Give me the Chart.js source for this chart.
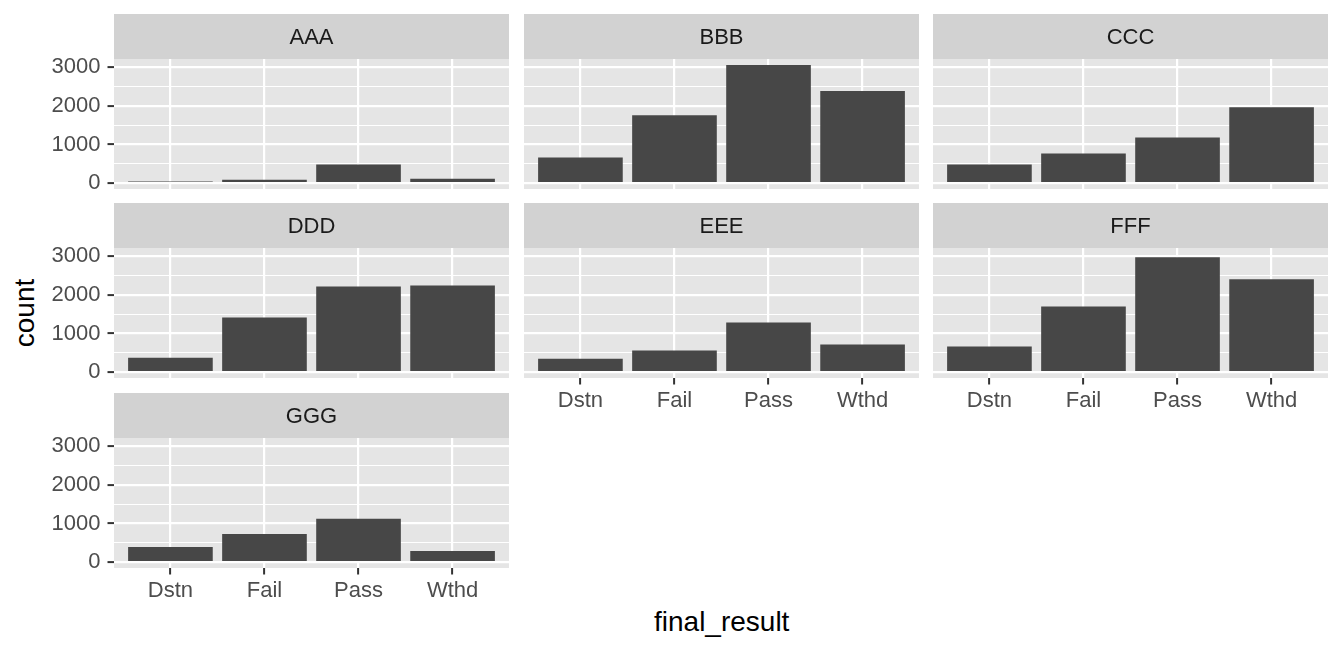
<!DOCTYPE html>
<html>
<head>
<meta charset="utf-8">
<script src="https://cdn.jsdelivr.net/npm/chart.js@4/dist/chart.umd.min.js"></script>
<style>
  html, body { margin: 0; padding: 0; background: #fff; }
  body { width: 1344px; height: 652px; position: relative; overflow: hidden;
         font-family: "Liberation Sans", Arial, sans-serif; }
  canvas { position: absolute; }
  .axtitle { position: absolute; color: #000; font-size: 28px; line-height: 28px;
             white-space: nowrap; text-align: center; }
</style>
</head>
<body>
<div class="axtitle" id="xtitle" style="left:621.7px; top:608px; width:200px;">final_result</div>
<div class="axtitle" id="ytitle" style="left:-75.4px; top:299px; width:200px; height:28px; transform:rotate(-90deg);">count</div>
<script>
// --- data ---
const categories = ["Dstn", "Fail", "Pass", "Wthd"];
const facets = ["AAA", "BBB", "CCC", "DDD", "EEE", "FFF", "GGG"];
const countAAA = [40, 88, 478, 113];
const countBBB = [661, 1757, 3061, 2383];
const countCCC = [478, 765, 1183, 1965];
const countDDD = [373, 1414, 2220, 2246];
const countEEE = [347, 555, 1284, 711];
const countFFF = [659, 1700, 2975, 2402];
const countGGG = [390, 728, 1119, 286];
const yGrid = [0, 500, 1000, 1500, 2000, 2500, 3000];   // minor + major lines
const yLabels = [0, 1000, 2000, 3000];                  // labelled (major)
const yRange = [-155, 3215];

const seriesByFacet = [countAAA, countBBB, countCCC, countDDD, countEEE, countFFF, countGGG];

// --- layout (ggplot facet_wrap, 3 columns) ---
const colLeft = [114, 524, 933];
const rowTop = [14, 203, 393];
const panelW = 395, stripH = 45, panelH = 130, xAxisH = 46;
const FONT = '"Liberation Sans", Arial, sans-serif';
const bottomFacets = ["EEE", "FFF", "GGG"];

// panel background + strip header
const panelBg = {
  id: "panelBg",
  beforeDraw(chart, args, opts) {
    const { ctx, chartArea: a } = chart;
    ctx.save();
    ctx.fillStyle = "#E5E5E5";
    ctx.fillRect(a.left, a.top, a.right - a.left, a.bottom - a.top);
    ctx.fillStyle = "#D2D2D2";
    ctx.fillRect(a.left, a.top - stripH, a.right - a.left, stripH);
    ctx.fillStyle = "#1A1A1A";
    ctx.font = "22px " + FONT;
    ctx.textAlign = "center";
    ctx.textBaseline = "middle";
    ctx.fillText(opts.label, (a.left + a.right) / 2, a.top - stripH / 2 + 1);
    ctx.restore();
  }
};

const isMajor = (c) => c.tick && yLabels.includes(c.tick.value);

facets.forEach((name, i) => {
  const row = Math.floor(i / 3), col = i % 3;
  const showY = col === 0;
  const showX = bottomFacets.includes(name);
  const yw = showY ? colLeft[0] : 0;

  const cv = document.createElement("canvas");
  const w = yw + panelW;
  const h = stripH + panelH + (showX ? xAxisH : 0);
  cv.width = w; cv.height = h;
  cv.style.width = w + "px"; cv.style.height = h + "px";
  cv.style.left = (colLeft[col] - yw) + "px";
  cv.style.top = rowTop[row] + "px";
  document.body.appendChild(cv);

  new Chart(cv.getContext("2d"), {
    type: "bar",
    data: {
      datasets: [{
        data: seriesByFacet[i].map((v, k) => ({ x: k, y: v })),
        backgroundColor: "#474747",
        borderWidth: 0,
        barPercentage: 0.9,
        categoryPercentage: 1
      }]
    },
    options: {
      responsive: false,
      animation: false,
      layout: { padding: { top: stripH, left: 0, right: 0, bottom: 0 } },
      plugins: {
        legend: { display: false },
        tooltip: { enabled: false },
        panelBg: { label: name }
      },
      scales: {
        x: {
          type: "linear",
          min: -0.6, max: 3.6,
          offset: false,
          border: { display: false },
          grid: { offset: false, color: "#fff", lineWidth: 2.2, drawTicks: showX,
                  tickLength: 6.5, tickColor: "#333", tickWidth: 2 },
          ticks: {
            display: showX, autoSkip: false,
            maxRotation: 0, padding: 3, color: "#4D4D4D",
            font: { family: FONT, size: 22 },
            callback: (v) => categories[v] ?? ""
          },
          afterBuildTicks: (s) => { s.ticks = categories.map((c, k) => ({ value: k })); },
          afterFit: (s) => { s.height = showX ? xAxisH : 0; s.paddingLeft = 0; s.paddingRight = 0; }
        },
        y: {
          min: yRange[0], max: yRange[1],
          border: { display: false },
          grid: {
            color: "#fff",
            lineWidth: (c) => isMajor(c) ? 2.2 : 1.1,
            drawTicks: showY, tickLength: 6.5, tickWidth: 2,
            tickColor: (c) => isMajor(c) ? "#333" : "rgba(0,0,0,0)"
          },
          ticks: {
            display: showY, autoSkip: false,
            padding: 7, color: "#4D4D4D",
            font: { family: FONT, size: 22 },
            callback: (v) => yLabels.includes(v) ? String(v) : ""
          },
          afterBuildTicks: (s) => { s.ticks = yGrid.map((v) => ({ value: v })); },
          afterFit: (s) => { s.width = yw; s.paddingTop = 0; s.paddingBottom = 0; }
        }
      }
    },
    plugins: [panelBg]
  });
});
</script>
</body>
</html>
